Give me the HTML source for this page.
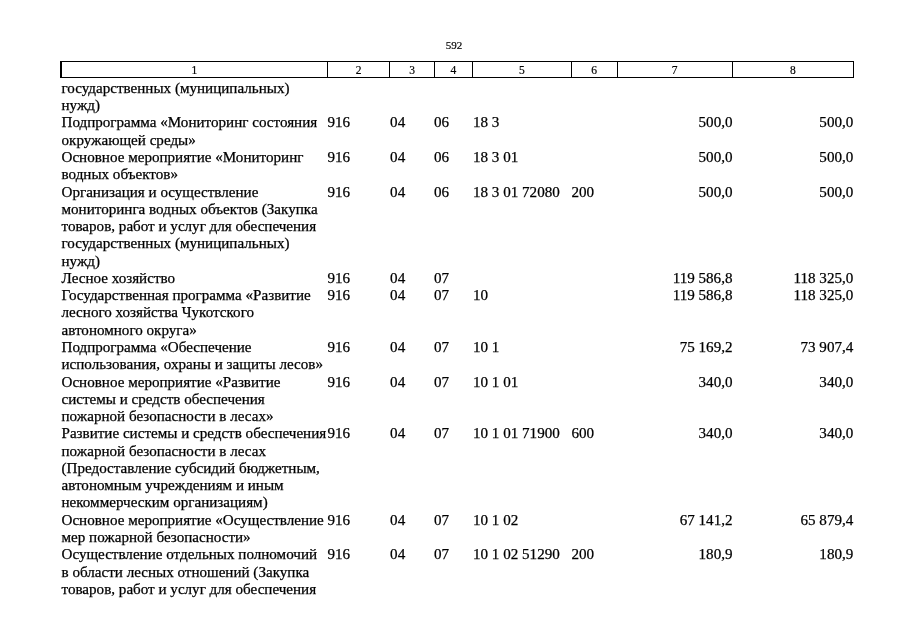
<!DOCTYPE html>
<html><head><meta charset="utf-8"><style>
html,body{margin:0;padding:0;background:#fff;}
body{width:905px;height:639px;position:relative;overflow:hidden;filter:grayscale(1);font-family:"Liberation Serif","Noto Serif CJK SC",serif;color:#000;}
.l{position:absolute;-webkit-text-stroke:0.25px #000;font-size:15.1px;line-height:16.716px;white-space:nowrap;}
.h{position:absolute;-webkit-text-stroke:0.2px #000;font-size:11.5px;line-height:12.731px;width:40px;text-align:center;}
.pg{position:absolute;-webkit-text-stroke:0.2px #000;font-size:11px;line-height:12.177px;left:434px;width:40px;text-align:center;top:38.90px;}
.ln{position:absolute;background:#000;}
.v{position:absolute;top:61px;width:1.3px;height:16.5px;background:#000;}
</style></head><body>
<div class="pg">592</div>
<div class="ln" style="left:60.2px;top:60.6px;width:793.9px;height:1.3px"></div><div class="ln" style="left:60.2px;top:77px;width:793.9px;height:1.45px"></div><div class="ln" style="left:60.2px;top:60.6px;width:1.8px;height:17.8px"></div><div class="ln" style="left:852.8px;top:60.6px;width:1.3px;height:17.85px"></div>
<div class="v" style="left:327.00px"></div><div class="v" style="left:389.20px"></div><div class="v" style="left:433.80px"></div><div class="v" style="left:472.00px"></div><div class="v" style="left:570.70px"></div><div class="v" style="left:616.50px"></div><div class="v" style="left:731.80px"></div>
<div class="h" style="top:63.65px;left:174.35px">1</div><div class="h" style="top:63.65px;left:338.60px">2</div><div class="h" style="top:63.65px;left:392.00px">3</div><div class="h" style="top:63.65px;left:433.40px">4</div><div class="h" style="top:63.65px;left:501.85px">5</div><div class="h" style="top:63.65px;left:574.10px">6</div><div class="h" style="top:63.65px;left:654.65px">7</div><div class="h" style="top:63.65px;left:772.90px">8</div>
<div class="l" style="top:79.95px;left:61.5px">государственных (муниципальных)</div><div class="l" style="top:97.22px;left:61.5px">нужд)</div><div class="l" style="top:114.49px;left:61.5px">Подпрограмма «Мониторинг состояния</div><div class="l" style="top:131.76px;left:61.5px">окружающей среды»</div><div class="l" style="top:149.03px;left:61.5px">Основное мероприятие «Мониторинг</div><div class="l" style="top:166.30px;left:61.5px">водных объектов»</div><div class="l" style="top:183.57px;left:61.5px">Организация и осуществление</div><div class="l" style="top:200.84px;left:61.5px">мониторинга водных объектов (Закупка</div><div class="l" style="top:218.11px;left:61.5px">товаров, работ и услуг для обеспечения</div><div class="l" style="top:235.38px;left:61.5px">государственных (муниципальных)</div><div class="l" style="top:252.65px;left:61.5px">нужд)</div><div class="l" style="top:269.92px;left:61.5px">Лесное хозяйство</div><div class="l" style="top:287.19px;left:61.5px">Государственная программа «Развитие</div><div class="l" style="top:304.46px;left:61.5px">лесного хозяйства Чукотского</div><div class="l" style="top:321.73px;left:61.5px">автономного округа»</div><div class="l" style="top:339.00px;left:61.5px">Подпрограмма «Обеспечение</div><div class="l" style="top:356.27px;left:61.5px">использования, охраны и защиты лесов»</div><div class="l" style="top:373.54px;left:61.5px">Основное мероприятие «Развитие</div><div class="l" style="top:390.81px;left:61.5px">системы и средств обеспечения</div><div class="l" style="top:408.08px;left:61.5px">пожарной безопасности в лесах»</div><div class="l" style="top:425.35px;left:61.5px">Развитие системы и средств обеспечения</div><div class="l" style="top:442.62px;left:61.5px">пожарной безопасности в лесах</div><div class="l" style="top:459.89px;left:61.5px">(Предоставление субсидий бюджетным,</div><div class="l" style="top:477.16px;left:61.5px">автономным учреждениям и иным</div><div class="l" style="top:494.43px;left:61.5px">некоммерческим организациям)</div><div class="l" style="top:511.70px;left:61.5px">Основное мероприятие «Осуществление</div><div class="l" style="top:528.97px;left:61.5px">мер пожарной безопасности»</div><div class="l" style="top:546.24px;left:61.5px">Осуществление отдельных полномочий</div><div class="l" style="top:563.51px;left:61.5px">в области лесных отношений (Закупка</div><div class="l" style="top:580.78px;left:61.5px">товаров, работ и услуг для обеспечения</div><div class="l" style="top:114.49px;left:327.5px">916</div><div class="l" style="top:114.49px;left:390.1px">04</div><div class="l" style="top:114.49px;left:434px">06</div><div class="l" style="top:114.49px;left:473px">18 3</div><div class="l r" style="top:114.49px;right:172.50px">500,0</div><div class="l r" style="top:114.49px;right:51.70px">500,0</div><div class="l" style="top:149.03px;left:327.5px">916</div><div class="l" style="top:149.03px;left:390.1px">04</div><div class="l" style="top:149.03px;left:434px">06</div><div class="l" style="top:149.03px;left:473px">18 3 01</div><div class="l r" style="top:149.03px;right:172.50px">500,0</div><div class="l r" style="top:149.03px;right:51.70px">500,0</div><div class="l" style="top:183.57px;left:327.5px">916</div><div class="l" style="top:183.57px;left:390.1px">04</div><div class="l" style="top:183.57px;left:434px">06</div><div class="l" style="top:183.57px;left:473px">18 3 01 72080</div><div class="l" style="top:183.57px;left:571.5px">200</div><div class="l r" style="top:183.57px;right:172.50px">500,0</div><div class="l r" style="top:183.57px;right:51.70px">500,0</div><div class="l" style="top:269.92px;left:327.5px">916</div><div class="l" style="top:269.92px;left:390.1px">04</div><div class="l" style="top:269.92px;left:434px">07</div><div class="l r" style="top:269.92px;right:172.50px">119 586,8</div><div class="l r" style="top:269.92px;right:51.70px">118 325,0</div><div class="l" style="top:287.19px;left:327.5px">916</div><div class="l" style="top:287.19px;left:390.1px">04</div><div class="l" style="top:287.19px;left:434px">07</div><div class="l" style="top:287.19px;left:473px">10</div><div class="l r" style="top:287.19px;right:172.50px">119 586,8</div><div class="l r" style="top:287.19px;right:51.70px">118 325,0</div><div class="l" style="top:339.00px;left:327.5px">916</div><div class="l" style="top:339.00px;left:390.1px">04</div><div class="l" style="top:339.00px;left:434px">07</div><div class="l" style="top:339.00px;left:473px">10 1</div><div class="l r" style="top:339.00px;right:172.50px">75 169,2</div><div class="l r" style="top:339.00px;right:51.70px">73 907,4</div><div class="l" style="top:373.54px;left:327.5px">916</div><div class="l" style="top:373.54px;left:390.1px">04</div><div class="l" style="top:373.54px;left:434px">07</div><div class="l" style="top:373.54px;left:473px">10 1 01</div><div class="l r" style="top:373.54px;right:172.50px">340,0</div><div class="l r" style="top:373.54px;right:51.70px">340,0</div><div class="l" style="top:425.35px;left:327.5px">916</div><div class="l" style="top:425.35px;left:390.1px">04</div><div class="l" style="top:425.35px;left:434px">07</div><div class="l" style="top:425.35px;left:473px">10 1 01 71900</div><div class="l" style="top:425.35px;left:571.5px">600</div><div class="l r" style="top:425.35px;right:172.50px">340,0</div><div class="l r" style="top:425.35px;right:51.70px">340,0</div><div class="l" style="top:511.70px;left:327.5px">916</div><div class="l" style="top:511.70px;left:390.1px">04</div><div class="l" style="top:511.70px;left:434px">07</div><div class="l" style="top:511.70px;left:473px">10 1 02</div><div class="l r" style="top:511.70px;right:172.50px">67 141,2</div><div class="l r" style="top:511.70px;right:51.70px">65 879,4</div><div class="l" style="top:546.24px;left:327.5px">916</div><div class="l" style="top:546.24px;left:390.1px">04</div><div class="l" style="top:546.24px;left:434px">07</div><div class="l" style="top:546.24px;left:473px">10 1 02 51290</div><div class="l" style="top:546.24px;left:571.5px">200</div><div class="l r" style="top:546.24px;right:172.50px">180,9</div><div class="l r" style="top:546.24px;right:51.70px">180,9</div>
</body></html>
